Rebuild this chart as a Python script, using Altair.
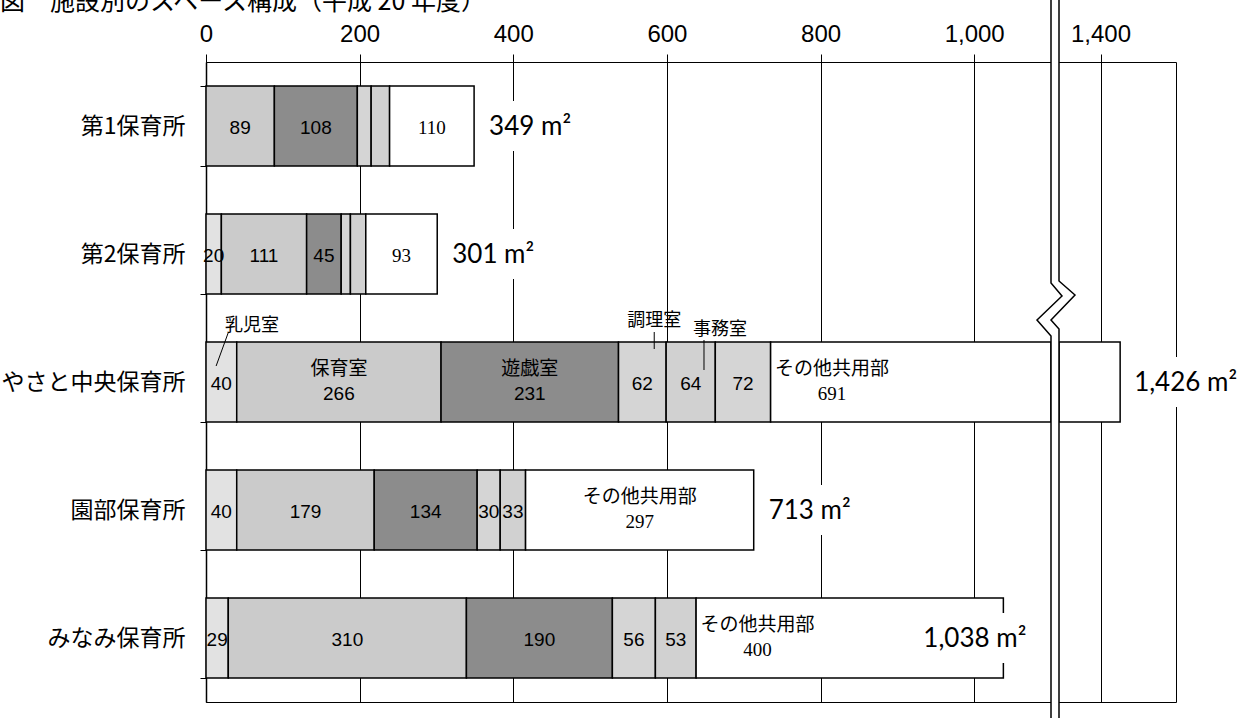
import altair as alt
import pandas as pd

TITLE = "図　施設別のスペース構成（平成 20 年度）"

facilities = ["第1保育所", "第2保育所", "やさと中央保育所", "園部保育所", "みなみ保育所"]

# floor area of each room type per facility (m²)
infant_room = [0, 20, 40, 40, 29]
nursery_room = [89, 111, 266, 179, 310]
play_room = [108, 45, 231, 134, 190]
kitchen = [18, 12, 62, 30, 56]
office = [24, 20, 64, 33, 53]
other_rooms = [0, 0, 72, 0, 0]
common_area = [110, 93, 691, 297, 400]

room_names = ["乳児室", "保育室", "遊戯室", "調理室", "事務室", "その他諸室", "その他共用部"]
room_areas = [infant_room, nursery_room, play_room, kitchen, office, other_rooms, common_area]
room_fills = ["#e2e2e2", "#cbcbcb", "#8c8c8c", "#d5d5d5", "#d1d1d1", "#d5d5d5", "#ffffff"]

left_ticks = [0, 200, 400, 600, 800, 1000]
right_ticks = [1400]
left_domain = [0, 1100]      # part of the axis before the break
right_domain = [1345, 1500]  # part of the axis after the break

# the row that carries the room-name annotations
LEGEND_ROW = "やさと中央保育所"

# ---- tables -------------------------------------------------------------
rows = []
for i, fac in enumerate(facilities):
    cum = 0
    for name, vals in zip(room_names, room_areas):
        v = vals[i]
        if v > 0:
            rows.append(dict(facility=fac, room=name, value=v, start=cum, end=cum + v))
        cum += v
seg = pd.DataFrame(rows)

totals = pd.DataFrame({
    "facility": facilities,
    "total": [sum(vals[i] for vals in room_areas) for i in range(len(facilities))],
})
totals["label"] = totals["total"].map(lambda t: f"{t:,} m²")

# ---- scales and axes ------------------------------------------------------
LEFT = alt.Scale(domain=left_domain, range=[0, 845], clamp=True, nice=False, zero=False)
RIGHT = alt.Scale(domain=right_domain, range=[853, 970], clamp=True, nice=False, zero=False)


def top_axis(values):
    return alt.Axis(orient="top", values=values, format=",.0f", title=None,
                    labelFont="Liberation Sans", labelFontSize=24, labelColor="black",
                    labelPadding=13, labelBaseline="alphabetic", labelFlush=False,
                    labelOverlap=False, tickColor="black", tickSize=8, tickWidth=1,
                    domain=False, grid=True, gridColor="black", gridWidth=1, gridOpacity=1)


AX_L = top_axis(left_ticks)
AX_R = top_axis(right_ticks)


def XL(field):
    return alt.X(field, scale=LEFT, axis=AX_L, title=None)


def XR(field):
    return alt.X(field, scale=RIGHT, axis=AX_R, title=None)


Y = alt.Y("facility:N", sort=facilities, title=None,
          scale=alt.Scale(paddingInner=0.375, paddingOuter=0.1875),
          axis=alt.Axis(labelFont="Noto Sans CJK JP", labelFontSize=23, labelColor="black",
                        labelPadding=15, labelLimit=400, tickBand="extent", tickSize=6,
                        tickColor="black", tickWidth=1, domainColor="black",
                        domainWidth=1.5, grid=False))

COLOR = alt.Color("room:N", scale=alt.Scale(domain=room_names, range=room_fills), legend=None)

JP = "Noto Sans CJK JP"

# ---- left part of the broken axis ---------------------------------------
bars_left = alt.Chart(seg).mark_bar(stroke="black", strokeWidth=1.5).encode(
    x=XL("start:Q"), x2="end:Q", y=Y, color=COLOR)

lab = alt.Chart(seg).transform_calculate(
    lx="datum.room == 'その他共用部' && datum.end > 1000 ? datum.start + 80 : (datum.start + datum.end) / 2",
    named=f"(datum.facility == '{LEGEND_ROW}' && (datum.room == '保育室' || datum.room == '遊戯室'))"
          " || (datum.room == 'その他共用部' && datum.value >= 200)",
    shown="datum.value >= 25 || datum.room == '乳児室'",
    white="datum.room == 'その他共用部'",
)

num_shaded = lab.transform_filter("!datum.named && datum.shown && !datum.white").mark_text(
    font="Liberation Sans", fontSize=19, dy=2, color="black").encode(
    x=XL("lx:Q"), y=Y, text="value:Q")
num_white = lab.transform_filter("!datum.named && datum.white").mark_text(
    font="Liberation Serif", fontSize=19, dy=2, color="black").encode(
    x=XL("lx:Q"), y=Y, text="value:Q")
name_inline = lab.transform_filter("datum.named").mark_text(
    font=JP, fontSize=19, dy=-13, color="black").encode(
    x=XL("lx:Q"), y=Y, text="room:N")
num_named_shaded = lab.transform_filter("datum.named && !datum.white").mark_text(
    font="Liberation Sans", fontSize=19, dy=12, color="black").encode(
    x=XL("lx:Q"), y=Y, text="value:Q")
num_named_white = lab.transform_filter("datum.named && datum.white").mark_text(
    font="Liberation Serif", fontSize=19, dy=12, color="black").encode(
    x=XL("lx:Q"), y=Y, text="value:Q")

# room names written above the legend row, with leader lines into the segment
CALLOUTS = {
    "乳児室": dict(frac=0.72, path="M0,-49L-12,-16", dx=-3, dy=-56, align="left"),
    "調理室": dict(frac=0.75, path="M0,-50V-33", dx=0, dy=-61, align="center"),
    "事務室": dict(frac=0.77, path="M0,-42V-12", dx=16, dy=-52, align="center"),
}
callout_layers = []
for room, c in CALLOUTS.items():
    base = alt.Chart(seg).transform_filter(
        f"datum.facility == '{LEGEND_ROW}' && datum.room == '{room}'"
    ).transform_calculate(px=f"datum.start + {c['frac']} * datum.value")
    callout_layers.append(base.mark_text(
        font=JP, fontSize=18, dx=c["dx"], dy=c["dy"], align=c["align"], color="black"
    ).encode(x=XL("px:Q"), y=Y, text="room:N"))
    callout_layers.append(base.mark_point(
        shape=c["path"], size=4, filled=False, stroke="black", strokeWidth=1, opacity=1
    ).encode(x=XL("px:Q"), y=Y))

# totals: white plates keep grid lines from running through the text
BOX_AFTER = "M12,-25H114V25H12Z"
BOX_INSIDE = "M-83,-25H30V25H-83Z"
BOX_AFTER_WIDE = "M11,-25H126V25H11Z"

tot = alt.Chart(totals)
tot_after = tot.transform_filter("datum.total + 140 <= 1100")
tot_inside = tot.transform_filter("datum.total <= 1100 && datum.total + 140 > 1100")
tot_right = tot.transform_filter("datum.total > 1100")


def plate(ch, shape, xenc):
    return ch.mark_point(shape=shape, size=4, filled=True, color="white",
                         strokeWidth=0, opacity=1).encode(x=xenc, y=Y)


def total_text(ch, dx, xenc):
    return ch.mark_text(font="Lato", fontSize=26, align="left", dx=dx, dy=1,
                        color="black").encode(x=xenc, y=Y, text="label:N")


left_group = alt.layer(
    bars_left, num_shaded, num_white, name_inline, num_named_shaded, num_named_white,
    *callout_layers,
    plate(tot_after, BOX_AFTER, XL("total:Q")), total_text(tot_after, 15, XL("total:Q")),
    plate(tot_inside, BOX_INSIDE, XL("total:Q")), total_text(tot_inside, -80, XL("total:Q")),
)

# ---- right part of the broken axis --------------------------------------
bars_right = alt.Chart(seg).transform_filter(f"datum.end > {right_domain[0]}").mark_bar(
    stroke="black", strokeWidth=1.5).encode(x=XR("start:Q"), x2="end:Q", y=Y, color=COLOR)

right_group = alt.layer(
    bars_right,
    plate(tot_right, BOX_AFTER_WIDE, XR("total:Q")), total_text(tot_right, 14, XR("total:Q")),
)

# ---- axis break symbol ----------------------------------------------------
BREAK_FILL = "M0,-70L0,221L11,234L-14,258L0,274L0,670L8,670L8,267L0,258L24,233L8,219L8,-70Z"
BREAK_LINE = "M0,-70L0,221L11,234L-14,258L0,274L0,670M8,-70L8,219L24,233L0,258L8,267L8,670"
one = pd.DataFrame({"k": [0]})
brk_x = alt.XDatum(left_domain[1], type="quantitative", scale=LEFT, axis=None)
break_fill = alt.Chart(one).mark_point(
    shape=BREAK_FILL, size=4, filled=True, color="white", strokeWidth=0, opacity=1
).encode(x=brk_x, y=alt.value(0))
break_line = alt.Chart(one).mark_point(
    shape=BREAK_LINE, size=4, filled=False, stroke="black", strokeWidth=1.5, opacity=1
).encode(x=brk_x, y=alt.value(0))

title = alt.Chart(pd.DataFrame({"t": [TITLE]})).mark_text(
    font=JP, fontSize=25, align="left", baseline="alphabetic", color="black"
).encode(x=alt.value(-206), y=alt.value(-52), text="t:N")

chart = alt.layer(left_group, right_group, break_fill, break_line, title).resolve_scale(
    x="independent"
).properties(
    width=970, height=640,
    autosize=alt.AutoSizeParams(type="none"),
    padding={"left": 206, "top": 62, "right": 67, "bottom": 16},
    background="white",
).configure_view(stroke="black", strokeWidth=1)

chart.save("out.html", embed_options={"renderer": "svg", "actions": False})
